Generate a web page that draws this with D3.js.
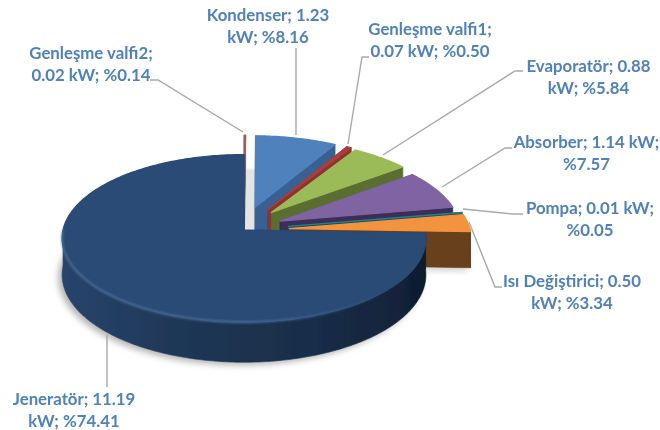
<!DOCTYPE html>
<html>
<head>
<meta charset="utf-8">
<script src="https://cdn.jsdelivr.net/npm/d3@7/dist/d3.min.js"></script>
<style>
html,body{margin:0;padding:0;background:#fff;}
svg{display:block;}
text{font-family:Lato,"Open Sans",sans-serif;font-weight:700;font-size:16.8px;fill:#4f81bd;text-anchor:middle;}
</style>
</head>
<body>
<svg id="chart" width="660" height="430"></svg>
<script>
// Data, clockwise from twelve o'clock
const categories = ["Genleşme valfi2","Kondenser","Genleşme valfi1","Evaporatör","Absorber","Pompa","Isı Değiştirici","Jeneratör"];
const powerKW    = [0.02,1.23,0.07,0.88,1.14,0.01,0.50,11.19];
const percents   = [0.14,8.16,0.50,5.84,7.57,0.05,3.34,74.41];
const firstLineWords = [2,2,2,2,3,3,3,2]; // words on a label's first line

// Styles
const topColors  = ["#a65a58","#4f81bd","#ac3d39","#9bbb59","#8064a2","#2a7f8f","#f39340","#2a4b75"];
const faceColors = ["#7d3a38","#376092","#8a3533","#5a6e33","#3c2d58","#14505c","#673f1c","#1c3557"];
const explodeX   = [0.29,0.24,0.26,0.23,0.22,0.25,0.25,0];
const explodeT   = [0.29,0.29,0.29,0.29,0.27,0.25,0.25,0];

// Layout of labels: centre x, first baseline, leader polyline
const labelLayout = [
  {x:91, y:59, leader:[[150,80],[158,80],[243,132]]},
  {x:268,y:21, leader:[[296,48],[296,135]]},
  {x:430,y:35, leader:[[369,57],[362,57],[348,144]]},
  {x:588.5,y:72, leader:[[523,71],[515,71],[383,155]]},
  {x:586.5,y:148,leader:[[512,148],[505,148],[442,187]]},
  {x:590,y:214, leader:[[523,214],[512,214],[463,209]]},
  {x:572,y:287, leader:[[502,287],[495,287],[469,222]]},
  {x:74, y:405, leader:[[107,387],[107,335]]}
];

const cx = 244, cy = 230, rx = 181, ry = 83, persp = 0.1, depth = 36, lineGap = 21.7;

const sx = d3.scaleLinear().domain([-1,1]).range([cx-rx,cx+rx]);
const sy = d3.scaleLinear().domain([-1,1]).range([cy+ry,cy-ry]);

// Ground-plane point -> screen with perspective; z = 1 is the lower face
function project(X,T,z){
  const s = 1/(1+persp*T);
  return [sx(X*s), sy(T*s) + (z?depth*s:0)];
}
const line = d3.line();
const closed = pts => line(pts)+"Z";

const pie = d3.pie().sort(null).value(d=>d).startAngle(0).endAngle(2*Math.PI);
const arcs = pie(percents);

const slices = arcs.map((a,i)=>{
  const mid = (a.startAngle+a.endAngle)/2;
  const ox = explodeX[i]*Math.sin(mid), ot = explodeT[i]*Math.cos(mid);
  const pt = (th,z,r=1)=>project(ox+r*Math.sin(th), ot+r*Math.cos(th), z);
  const rim = (t0,t1,z)=>{
    const n = Math.max(2,Math.ceil((t1-t0)/0.015));
    return d3.range(n+1).map(k=>pt(t0+(t1-t0)*k/n,z));
  };
  return {a,i,pt,rim,apex:z=>pt(0,z,0)};
});

const svg = d3.select("#chart");
const defs = svg.append("defs");
defs.append("filter").attr("id","soft").attr("x","-10%").attr("y","-10%").attr("width","120%").attr("height","130%")
  .append("feGaussianBlur").attr("stdDeviation",3);
defs.append("filter").attr("id","softSmall").attr("x","-20%").attr("y","-20%").attr("width","140%").attr("height","140%")
  .append("feGaussianBlur").attr("stdDeviation",1);
defs.append("filter").attr("id","bevel").attr("x","-5%").attr("y","-5%").attr("width","110%").attr("height","110%")
  .append("feGaussianBlur").attr("stdDeviation",0.9);
defs.append("filter").attr("id","aa").append("feGaussianBlur").attr("stdDeviation",0.35);
defs.append("filter").attr("id","textSoft").append("feGaussianBlur").attr("stdDeviation",0.25);

const wallGrad = defs.append("linearGradient").attr("id","wall").attr("gradientUnits","userSpaceOnUse")
  .attr("x1",sx(-1)).attr("x2",sx(1)).attr("y1",0).attr("y2",0);
[[0,"#28446c"],[0.3,"#1f3857"],[0.7,"#182d48"],[0.93,"#13233a"],[1,"#0c1a2c"]]
  .forEach(([o,c])=>wallGrad.append("stop").attr("offset",o).attr("stop-color",c));
const rimGrad = defs.append("linearGradient").attr("id","rimLight").attr("gradientUnits","userSpaceOnUse")
  .attr("x1",sx(-1)).attr("x2",sx(1)).attr("y1",0).attr("y2",0);
[[0,"#5f85b5",0.55],[0.55,"#5f85b5",0.55],[0.9,"#5f85b5",0]]
  .forEach(([o,c,a])=>rimGrad.append("stop").attr("offset",o).attr("stop-color",c).attr("stop-opacity",a));

// Ground shadows: the main slice's soft one, the exploded slices' pale one
svg.append("g").attr("filter","url(#soft)").attr("transform","translate(-4,3)")
  .selectAll("path").data(slices.filter(d=>d.i===7)).join("path")
  .attr("fill","#b5b5b5")
  .attr("d",d=>closed([d.apex(1),...d.rim(d.a.startAngle,d.a.endAngle,1)]));
svg.append("g").attr("filter","url(#softSmall)").attr("transform","translate(-12,1)")
  .selectAll("path").data(slices.filter(d=>d.i===1)).join("path")
  .attr("fill","#e4e4e4")
  .attr("d",d=>closed([d.apex(1),...d.rim(d.a.startAngle,d.a.endAngle,1)]));
svg.append("g").attr("filter","url(#soft)").attr("transform","translate(-3,3)")
  .selectAll("path").data(slices.filter(d=>d.i===6)).join("path")
  .attr("fill","#cfcfcf")
  .attr("d",d=>closed([d.apex(1),...d.rim(d.a.startAngle,d.a.endAngle,1)]));

// Slices, back to front
const g = svg.append("g").attr("filter","url(#aa)");
slices.forEach(d=>{
  const {a,i} = d, face = faceColors[i];
  const t0 = a.startAngle, t1 = a.endAngle;
  const sg = g.append("g");
  const flat = (pts,fill)=>sg.append("path").attr("d",closed(pts)).attr("fill",fill)
    .attr("stroke",fill).attr("stroke-width",0.6).attr("stroke-linejoin","round");
  flat([d.apex(0),d.pt(t0,0),d.pt(t0,1),d.apex(1)],face);
  flat([d.apex(0),d.pt(t1,0),d.pt(t1,1),d.apex(1)],face);
  const w0 = Math.max(t0,Math.PI/2), w1 = Math.min(t1,3*Math.PI/2);
  if(w1>w0){
    const upper = d.rim(w0,w1,0), lower = d.rim(w0,w1,1).reverse();
    flat([...upper,...lower], i===7?"url(#wall)":face);
  }
  sg.append("path").attr("d",closed([d.apex(0),...d.rim(t0,t1,0)]))
    .attr("fill",topColors[i]).attr("stroke",topColors[i])
    .attr("stroke-width",1.2).attr("stroke-linejoin","round");
  if(i===7){
    sg.append("path").attr("d",line(d.rim(Math.PI*0.55,Math.PI*1.5,0)))
      .attr("fill","none").attr("stroke","url(#rimLight)").attr("stroke-width",2.2)
      .attr("filter","url(#bevel)");
  }
});

// Leader lines
svg.append("g").selectAll("path").data(labelLayout).join("path")
  .attr("d",d=>line(d.leader)).attr("fill","none")
  .attr("stroke","#a9a9a9").attr("stroke-width",1.4);

// Labels
const labels = svg.append("g").attr("filter","url(#textSoft)").selectAll("text").data(categories).join("text")
  .attr("transform",(d,i)=>`translate(${labelLayout[i].x},${labelLayout[i].y})`);
labels.each(function(c,i){
  const words = `${c}; ${powerKW[i].toFixed(2)} kW; %${percents[i].toFixed(2)}`.split(" ");
  const n = firstLineWords[i];
  d3.select(this).append("tspan").attr("x",0).attr("y",0).text(words.slice(0,n).join(" "));
  d3.select(this).append("tspan").attr("x",0).attr("y",lineGap).text(words.slice(n).join(" "));
});
</script>
</body>
</html>
